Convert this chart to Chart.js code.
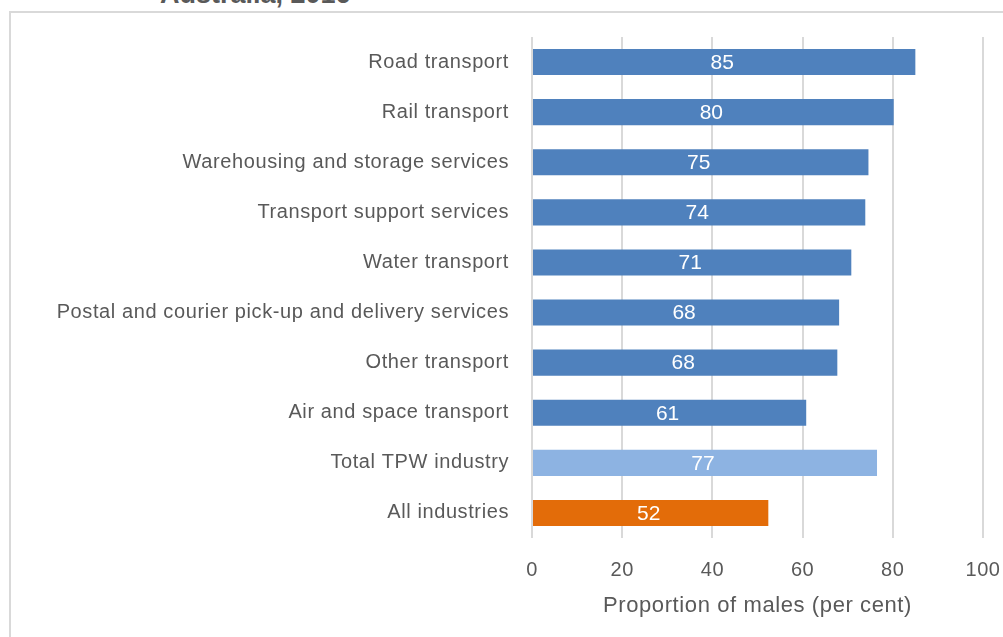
<!DOCTYPE html>
<html>
<head>
<meta charset="utf-8">
<script src="https://cdn.jsdelivr.net/npm/chart.js@4/dist/chart.umd.min.js"></script>
<style>
  html, body { margin: 0; padding: 0; background: #fff; overflow: hidden; }
  #wrap { position: relative; width: 1003px; height: 637px; }
  #frame { position: absolute; left: 9px; top: 11px; width: 1100px; height: 700px;
           border-left: 2px solid #d9d9d9; border-top: 2px solid #d9d9d9; }
  #title { position: absolute; left: 160px; top: -21px; font: bold 27px "Liberation Sans", Arial, sans-serif;
           color: #595959; white-space: nowrap; }
  #chartBox { position: absolute; left: 0; top: 0; width: 1003px; height: 637px; }
</style>
</head>
<body>
<div id="wrap">
  <div id="title">Australia, 2016</div>
  <div id="frame"></div>
  <div id="chartBox"><canvas id="MalesChart"></canvas></div>
</div>
<script>
  'use strict';

  var categories = [
    'Road transport',
    'Rail transport',
    'Warehousing and storage services',
    'Transport support services',
    'Water transport',
    'Postal and courier pick-up and delivery services',
    'Other transport',
    'Air and space transport',
    'Total TPW industry',
    'All industries'
  ];
  var maleShare = [85.0, 80.2, 74.6, 73.9, 70.8, 68.1, 67.7, 60.8, 76.5, 52.4];
  var shownLabels = ['85', '80', '75', '74', '71', '68', '68', '61', '77', '52'];
  var barColours = ['#4f81bd', '#4f81bd', '#4f81bd', '#4f81bd', '#4f81bd', '#4f81bd', '#4f81bd', '#4f81bd', '#8db3e2', '#e36c09'];
  var xTicks = [0, 20, 40, 60, 80, 100];

  var fontName = '"Liberation Sans", Arial, sans-serif';

  // a little letter spacing, the original font runs wider
  var spacing = {
    id: 'spacing',
    beforeDraw: function (chart) {
      chart.ctx.letterSpacing = '0.6px';
    }
  };

  // white value labels inside each bar
  var barValueLabels = {
    id: 'barValueLabels',
    afterDatasetsDraw: function (chart) {
      var ctx = chart.ctx;
      var meta = chart.getDatasetMeta(0);
      ctx.save();
      ctx.letterSpacing = '0px';
      ctx.fillStyle = '#ffffff';
      ctx.font = '21px ' + fontName;
      ctx.textAlign = 'center';
      ctx.textBaseline = 'middle';
      meta.data.forEach(function (bar, i) {
        ctx.fillText(shownLabels[i], (bar.x + bar.base) / 2 - 2, bar.y + 1);
      });
      ctx.restore();
    }
  };

  var ctx = document.getElementById('MalesChart');
  var chartMales = new Chart(ctx, {
    type: 'bar',
    data: {
      labels: categories,
      datasets: [{
        data: maleShare,
        backgroundColor: barColours,
        borderWidth: 0,
        barPercentage: 0.52,
        categoryPercentage: 1
      }]
    },
    options: {
      indexAxis: 'y',
      responsive: true,
      maintainAspectRatio: false,
      animation: false,
      layout: { padding: { left: 0, right: 20, top: 37, bottom: 18 } },
      plugins: {
        legend: { display: false },
        tooltip: { enabled: false }
      },
      scales: {
        x: {
          min: 0,
          max: 100,
          afterBuildTicks: function (scale) {
            scale.ticks = xTicks.map(function (v) { return { value: v }; });
          },
          afterFit: function (scale) {
            scale.height = 81;
            scale.paddingLeft = 0;
            scale.paddingRight = 0;
          },
          border: { display: false },
          grid: { color: '#d9d9d9', lineWidth: 2, drawTicks: false },
          ticks: { color: '#595959', font: { family: fontName, size: 20 }, padding: 20 },
          title: {
            display: true,
            text: 'Proportion of males (per cent)',
            color: '#595959',
            font: { family: fontName, size: 22 },
            padding: { top: 10, bottom: 0 }
          }
        },
        y: {
          afterFit: function (scale) { scale.width = 532; },
          border: { display: false },
          grid: { display: false, drawTicks: false },
          ticks: { color: '#595959', font: { family: fontName, size: 20 }, padding: 23 }
        }
      }
    },
    plugins: [spacing, barValueLabels]
  });

  chartMales.update();
</script>
</body>
</html>
